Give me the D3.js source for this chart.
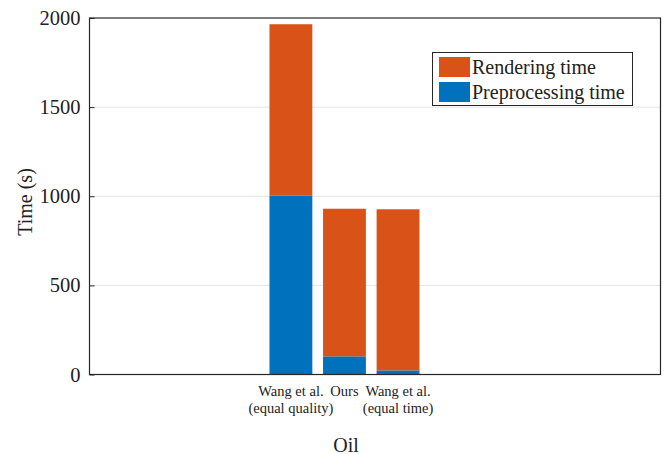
<!DOCTYPE html>
<html><head><meta charset="utf-8">
<script src="https://cdn.jsdelivr.net/npm/d3@7"></script>
<style>body{margin:0;background:#fff}svg{display:block}</style>
</head><body><svg id="c" width="666" height="454"></svg>
<script>
const categories = [["Wang et al.","(equal quality)"],["Ours",""],["Wang et al.","(equal time)"]];
const preprocessing = [1003, 102, 23];
const rendering = [962, 828, 904];
const yTicks = [0, 500, 1000, 1500, 2000];
const seriesNames = ["Rendering time", "Preprocessing time"];
const colors = {render: "#D95319", pre: "#0072BD"};
const FONT = "Liberation Serif, Times New Roman, Times, serif";

const svg = d3.select("#c");
const L = 89.5, R = 660.5, T = 18, B = 374.5;
const x = d3.scaleLinear().domain([-3.76, 6.9]).range([L, R]);
const y = d3.scaleLinear().domain([0, 2000]).range([B, T]);
const bw = x(0.8) - x(0);

// grid
svg.append("g").selectAll("line").data(yTicks.filter(d => d > 0 && d < 2000)).join("line")
  .attr("x1", L).attr("x2", R).attr("y1", d => y(d)).attr("y2", d => y(d))
  .attr("stroke", "#e3e3e3").attr("stroke-width", 1);

// bars
const g = svg.append("g");
categories.forEach((c, i) => {
  g.append("rect").attr("x", x(i) - bw/2).attr("width", bw)
    .attr("y", y(preprocessing[i])).attr("height", y(0) - y(preprocessing[i])).attr("fill", colors.pre);
  g.append("rect").attr("x", x(i) - bw/2).attr("width", bw)
    .attr("y", y(preprocessing[i] + rendering[i])).attr("height", y(preprocessing[i]) - y(preprocessing[i] + rendering[i])).attr("fill", colors.render);
});

// box
svg.append("rect").attr("x", L).attr("y", T).attr("width", R - L).attr("height", B - T)
  .attr("fill", "none").attr("stroke", "#262626").attr("stroke-width", 1.2);

// y axis
const yAxis = d3.axisLeft(y).tickValues(yTicks).tickFormat(d3.format("d")).tickSize(-5).tickPadding(9);
const ya = svg.append("g").attr("transform", `translate(${L},0)`).call(yAxis)
  .attr("font-family", FONT).attr("font-size", 20.5);
ya.select(".domain").remove();
ya.selectAll("line").attr("stroke", "#262626");
ya.selectAll("text").attr("fill", "#222");

// x labels
categories.forEach((c, i) => {
  const t = svg.append("text").attr("text-anchor", "middle").attr("font-size", 14.5).attr("font-family", FONT).attr("fill", "#222");
  t.append("tspan").attr("x", x(i)).attr("y", 396).text(c[0]);
  if (c[1]) t.append("tspan").attr("x", x(i)).attr("y", 413).text(c[1]);
});

svg.append("text").attr("x", 346).attr("y", 451.5).attr("text-anchor", "middle").attr("font-size", 20).attr("font-family", FONT).attr("fill", "#222").text("Oil");
svg.append("text").attr("transform", `translate(32,202) rotate(-90)`).attr("text-anchor", "middle").attr("font-size", 20).attr("font-family", FONT).attr("fill", "#222").text("Time (s)");

// legend
const lg = svg.append("g");
lg.append("rect").attr("x", 432.5).attr("y", 52.5).attr("width", 200).attr("height", 53).attr("fill", "#fff").attr("stroke", "#262626").attr("stroke-width", 1);
[[seriesNames[0], colors.render, 57], [seriesNames[1], colors.pre, 82]].forEach(([n, col, yy]) => {
  lg.append("rect").attr("x", 439).attr("y", yy).attr("width", 31).attr("height", 20).attr("fill", col);
  lg.append("text").attr("x", 472).attr("y", yy + 16.5).attr("font-size", 20).attr("font-family", FONT).attr("fill", "#222").text(n);
});
</script></body></html>
